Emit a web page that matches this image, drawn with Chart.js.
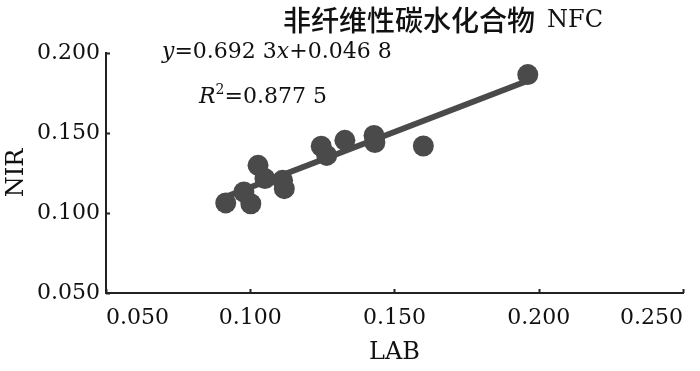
<!DOCTYPE html>
<html>
<head>
<meta charset="utf-8">
<script src="https://cdn.jsdelivr.net/npm/chart.js@4"></script>
<style>
  html, body { margin: 0; padding: 0; background: #fff; }
  #wrap { width: 700px; height: 371px; position: relative; }
</style>
</head>
<body>
<div id="wrap"><canvas id="nfcChart"></canvas></div>
<script>
// LAB vs NIR readings
const labValues = [0.0915, 0.0978, 0.1002, 0.1027, 0.1051, 0.1112, 0.1118, 0.1246, 0.1265, 0.1328, 0.1429, 0.1432, 0.1600, 0.1962];
const nirValues = [0.1063, 0.1131, 0.1058, 0.1298, 0.1215, 0.1204, 0.1152, 0.1417, 0.1360, 0.1454, 0.1485, 0.1440, 0.1419, 0.1865];
const fitSlope = [0.6923];
const fitIntercept = [0.0468];
const xTicks = [0.050, 0.100, 0.150, 0.200, 0.250];
const yTicks = [0.050, 0.100, 0.150, 0.200];

const serif = '"DejaVu Serif", "Liberation Serif", serif';
const ink = '#111';
const markColor = '#4a4a4a';

const points = labValues.map((x, i) => ({ x: x, y: nirValues[i] }));
const xMin = Math.min(...labValues), xMax = Math.max(...labValues);
const fitLine = [xMin, xMax].map(x => ({ x: x, y: fitSlope[0] * x + fitIntercept[0] }));

// title, equation, inward tick marks
const extras = {
  id: 'extras',
  afterDraw(chart) {
    const ctx = chart.ctx;
    const { x, y } = chart.scales;
    ctx.save();
    ctx.strokeStyle = '#222';
    ctx.lineWidth = 2;
    xTicks.forEach(v => {
      const px = Math.round(x.getPixelForValue(v)) + 0.5;
      ctx.beginPath(); ctx.moveTo(px, y.bottom); ctx.lineTo(px, y.bottom - 4); ctx.stroke();
    });
    yTicks.forEach(v => {
      const py = Math.round(y.getPixelForValue(v)) + 0.5;
      ctx.beginPath(); ctx.moveTo(x.left, py); ctx.lineTo(x.left + 4, py); ctx.stroke();
    });

    ctx.fillStyle = ink;
    ctx.textBaseline = 'middle';
    ctx.textAlign = 'left';
    // title
    const cjk = '非纤维性碳水化合物';
    ctx.font = '500 28px "Noto Sans CJK SC", sans-serif';
    ctx.fillText(cjk, 283, 20);
    const tx = 283 + ctx.measureText(cjk).width + 12;
    ctx.font = '24px ' + serif;
    ctx.fillText('NFC', tx, 21);

    // equation pieces: [text, italic, superscript]
    const drawRun = (parts, sx, sy) => {
      let cx = sx;
      parts.forEach(([t, it, sup]) => {
        ctx.font = (it ? 'italic ' : '') + (sup ? '14px ' : '22px ') + serif;
        ctx.fillText(t, cx, sup ? sy - 7 : sy);
        cx += ctx.measureText(t).width;
      });
    };
    drawRun([['y', true], ['=0.692 3', false], ['x', true], ['+0.046 8', false]], 162, 52);
    drawRun([['R', true], ['2', false, true], ['=0.877 5', false]], 199, 97);
    ctx.restore();
  }
};

new Chart(document.getElementById('nfcChart'), {
  type: 'scatter',
  data: {
    datasets: [
      {
        type: 'line',
        data: fitLine,
        borderColor: markColor,
        borderWidth: 6,
        pointRadius: 0,
        fill: false,
        order: 2
      },
      {
        data: points,
        backgroundColor: markColor,
        borderWidth: 0,
        pointRadius: 10.5,
        order: 1
      }
    ]
  },
  options: {
    responsive: true,
    maintainAspectRatio: false,
    animation: false,
    layout: { padding: { top: 53, right: 17, bottom: 0, left: 0 } },
    plugins: { legend: { display: false }, tooltip: { enabled: false }, title: { display: false } },
    scales: {
      x: {
        type: 'linear',
        min: 0.05,
        max: 0.25,
        afterBuildTicks: s => { s.ticks = xTicks.map(v => ({ value: v })); },
        afterFit: s => { s.height = 78; s.paddingLeft = 0; s.paddingRight = 0; },
        grid: { display: false, drawTicks: false },
        border: { display: true, color: '#222', width: 2 },
        ticks: {
          padding: 12,
          maxRotation: 0,
          align: 'inner',
          color: ink,
          font: { family: serif, size: 22 },
          callback: v => v.toFixed(3)
        },
        title: {
          display: true,
          text: 'LAB',
          color: ink,
          font: { family: serif, size: 24 },
          padding: { top: 0, bottom: 4 }
        }
      },
      y: {
        type: 'linear',
        min: 0.05,
        max: 0.2,
        afterBuildTicks: s => { s.ticks = yTicks.map(v => ({ value: v })); },
        afterFit: s => { s.width = 106; s.paddingTop = 0; s.paddingBottom = 0; },
        grid: { display: false, drawTicks: false },
        border: { display: true, color: '#222', width: 2 },
        ticks: {
          padding: 6,
          color: ink,
          font: { family: serif, size: 22 },
          callback: v => v.toFixed(3)
        },
        title: {
          display: true,
          text: 'NIR',
          color: ink,
          font: { family: serif, size: 24 },
          padding: { top: 2, bottom: 0 }
        }
      }
    }
  },
  plugins: [extras]
});
</script>
</body>
</html>
